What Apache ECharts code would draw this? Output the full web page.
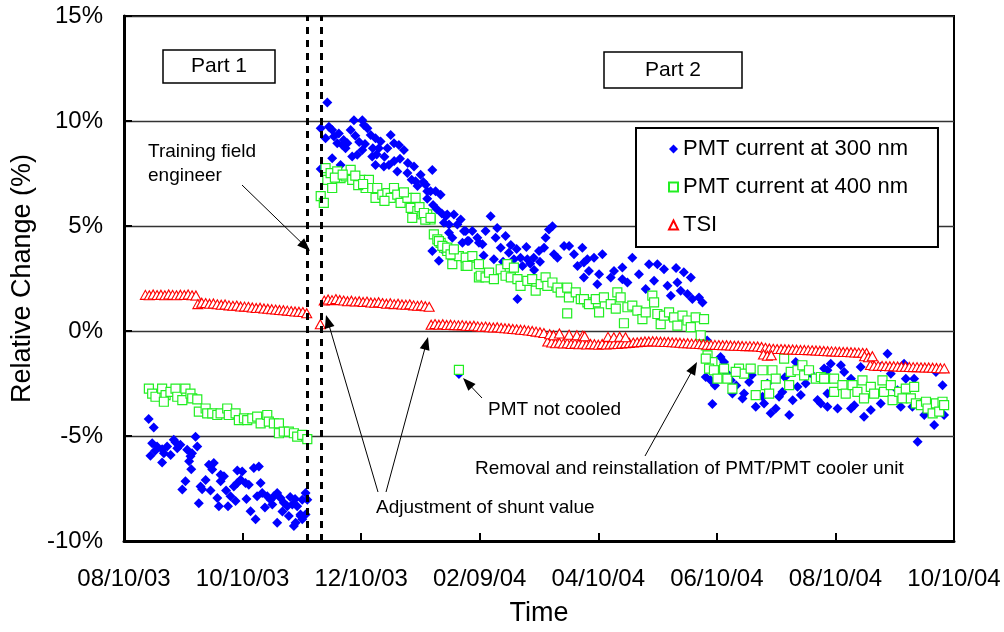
<!DOCTYPE html>
<html>
<head>
<meta charset="utf-8">
<script src="https://cdn.jsdelivr.net/npm/echarts@6/dist/echarts.min.js"></script>
<style>html,body{margin:0;padding:0;background:#fff}#c{width:1004px;height:632px}</style>
</head>
<body>
<div id="c"></div>
<script>
// x = days since 08/10/03 ; y = relative change (%)
const tickLabels = ['08/10/03','10/10/03','12/10/03','02/09/04','04/10/04','06/10/04','08/10/04','10/10/04'];
const tickStepDays = 61;
const seriesNames = ['PMT current at 300 nm','PMT current at 400 nm','TSI'];
const eventDays = [94.3, 101.5];

const pmt300Part1 = [[12.7,-4.19],[15.3,-4.6],[14.5,-5.35],[17,-5.5],[19.6,-5.63],[22.2,-5.5],[25.6,-5.18],[27.4,-5.58],[29,-5.42],[13.6,-5.94],[20.5,-5.82],[19.6,-6.26],[32.5,-5.66],[34.2,-5.97],[36.8,-5.03],[37.7,-5.5],[35,-5.82],[34.6,-6.58],[31.6,-7.16],[30,-7.55],[39.4,-7.4],[40.2,-7.53],[38.5,-8.2],[43.7,-6.37],[45.4,-6.6],[46.2,-6.29],[49.7,-6.84],[51.4,-6.92],[48,-7.95],[48.8,-8.34],[54.8,-7.87],[56.5,-7.4],[58.3,-7.24],[60.8,-6.69],[60,-7.08],[62.5,-7.24],[64.2,-7.32],[57.4,-8.1],[53.5,-8.34],[65.1,-8.58],[67.7,-8.97],[69.4,-6.45],[70.3,-7.24],[68.5,-7.87],[71.1,-7.71],[73.7,-7.87],[75.4,-8.03],[77.1,-7.87],[78.8,-7.71],[80.5,-7.95],[76.3,-8.26],[78.8,-9.13],[82.2,-8.18],[84,-8.34],[84.8,-8.81],[86.6,-8.26],[88.3,-9.13],[89.1,-8.34],[90.8,-8.74],[91.7,-8.03],[93.4,-7.71],[94.3,-8.03],[91.7,-8.97],[93.4,-8.74],[87.4,-9.29],[66.8,-6.52],[58.3,-6.64],[49.7,-7.16],[90.8,-8.81],[16,-5.7],[24,-5.9],[26.5,-5.3],[33.5,-6.2],[42,-7.1],[44.5,-7.6],[52.5,-7.6],[63,-8.0],[72.5,-8.4],[81.5,-8.6],[85.5,-7.9],[88,-8.0]];
const pmt300Part2 = [[104.6,10.88],[101.2,9.65],[105.4,9.73],[103.7,9.18],[107.1,9.57],[108,9.26],[109.7,8.94],[112.3,8.86],[114.9,8.94],[116.6,9.57],[118.3,10.04],[122.6,10.04],[123.4,9.81],[125.2,9.65],[126.9,9.33],[129.4,9.18],[132,9.02],[137.2,9.33],[138.9,8.94],[141.4,8.86],[144,8.62],[114,8.7],[107.1,8.23],[117.4,8.31],[120,8.39],[122.6,8.62],[127.7,8.31],[129.4,7.91],[133.7,7.83],[136.3,7.91],[131.1,8.7],[135.5,8.7],[140.6,7.6],[145.8,7.52],[149.2,7.83],[150,7.13],[152.6,7.44],[155.2,6.96],[158.6,7.67],[157.7,6.65],[160.3,6.65],[162.9,6.49],[111.4,7.91],[101.2,7.71],[110.5,9.4],[113,9.1],[119,9.3],[121,9.0],[124,8.9],[128,8.7],[130,8.4],[134,8.3],[139,8.1],[142,8.2],[146,8.0],[148,7.2],[151,6.9],[154,7.1],[156,6.3],[159,6.0],[161,5.8],[163.5,5.6],
[165.5,5.47],[169.7,5.55],[167.2,5.07],[171.5,5.07],[174.9,4.76],[179.2,4.76],[176.7,4.28],[174.1,4.2],[158.6,3.81],[162,3.34],[168.9,4.44],[181.8,4.44],[156,6.65],[166.3,5.55],[173.2,5.31],[164.6,5.15],[167.2,4.68],[163.8,3.89],[175.8,4.76],[177.4,4.28],[182.6,4.2],[186,4.76],[184.4,4.13],[188.6,5.47],[191.2,4.44],[193.8,3.97],[196.3,4.52],[190.3,3.42],[198,3.73],[200.6,3.42],[204,3.49],[207.5,3.42],[202.4,1.52],[213.5,3.81],[216.1,3.97],[216.9,4.44],[218.6,4.83],[220.4,4.99],[221.2,3.65],[223,3.49],[226.4,4.05],[229,4.05],[231.5,3.65],[233.3,3.1],[235.8,3.97],[236.6,3.26],[239.2,2.86],[241.8,3.49],[243.5,2.23],[244.4,2.7],[210.8,3.49],[209,3.2],[185,3.6],[192,4.9],[195,3.3],[199,4.1],[202,3.9],[205,3.1],[207,4.0],[211,2.9],[214,3.3],[172.3,-2.05],
[238.4,3.42],[246.1,3.65],[236.6,2.55],[250.4,2.55],[252.1,2.86],[256.4,3.02],[261.5,3.49],[264.9,2.7],[270.1,3.18],[274.4,3.18],[259,2.31],[268.4,2.0],[272.7,2.39],[279.6,2.15],[284.7,2.31],[286.4,1.92],[289.9,1.76],[292.4,1.52],[295.8,1.6],[297.6,1.36],[281.3,1.68],[277.8,2.94],[256.4,2.47],[284,3.0],[288,2.8],[291.6,2.55],
[300,-0.45],[299.3,-2.19],[301.8,-2.35],[306.9,-1.24],[308.7,-1.48],[302.7,-3.48],[312.2,-2.35],[313,-2.98],[318.2,-3.21],[319,-2.98],[321.6,-2.43],[325,-3.61],[328.5,-3.13],[329.3,-3.45],[332.7,-3.92],[335.3,-3.69],[337,-3.13],[338.7,-2.9],[342.2,-4.0],[345.6,-1.48],[346.5,-2.66],[348.2,-3.05],[350.7,-2.5],[356.8,-3.29],[360.2,-1.79],[361.9,-3.61],[361.9,-2.98],[304,-2.6],[310,-2.0],[315,-2.6],[323,-2.1],[331,-2.5],[340,-2.2],[344,-3.3],[353,-2.0],
[358.5,-3.45],[361.9,-1.87],[363.6,-1.56],[367.1,-3.69],[368.8,-1.63],[370.5,-1.95],[374,-2.27],[375.7,-3.53],[374,-3.69],[380.7,-4.08],[384.2,-3.76],[379,-1.71],[389.3,-3.45],[392.8,-1.08],[394.5,-2.03],[399.6,-3.61],[401.3,-1.56],[402.2,-2.27],[405.6,-3.61],[406.5,-2.27],[408.3,-5.27],[411.7,-4.0],[416.8,-4.48],[417.7,-1.95],[421.1,-2.58],[421.9,-4.0],[397.9,-2.82],[389.3,-1.71]];

const pmt400Part1 = [[12.8,-2.74],[14.5,-2.98],[16.2,-3.13],[19.6,-2.74],[21.4,-3.05],[20.5,-3.37],[23.9,-2.9],[26.5,-2.74],[27.4,-3.13],[30,-3.29],[31.6,-2.74],[34.2,-2.98],[35.1,-3.21],[37.7,-3.26],[38.5,-3.84],[42,-3.69],[42.8,-3.92],[45.4,-3.92],[48,-4.0],[49.7,-3.92],[53.1,-3.69],[53.9,-4.0],[57.4,-3.92],[59.1,-4.24],[61.7,-4.16],[63.4,-4.24],[66,-4.16],[68.5,-4.08],[70.3,-4.4],[73.7,-4.0],[74.5,-4.32],[77.1,-4.4],[79.7,-4.4],[79.7,-4.87],[82.2,-4.79],[84.8,-4.79],[87.4,-4.87],[89.1,-5.03],[91.7,-4.95],[94.3,-5.15]];
const pmt400Part2 = [[101.2,6.42],[102.8,6.1],[103.7,7.76],[104.6,7.2],[107.1,6.81],[106.3,7.52],[109.7,7.6],[111.4,7.28],[114,7.36],[116.6,7.67],[117.4,7.2],[121.7,7.2],[124.3,6.81],[126,7.2],[127.7,6.81],[129.4,6.34],[130.3,6.81],[132.9,6.49],[135.5,6.57],[137.2,6.34],[138.9,6.81],[140.6,6.49],[142.3,6.1],[145.8,6.34],[147.5,5.86],[150,6.34],[150.9,5.71],[153.5,5.55],[156,5.55],[157.7,5.31],[148.3,5.39],[159.4,4.6],[161.2,4.36],[162.9,4.2],[164.6,3.97],[166.3,3.81],[168.9,3.18],[169.7,3.81],[172.3,3.57],[175.8,3.1],[178.3,3.49],[182.6,2.55],[108.5,7.3],[112.5,7.45],[119,7.4],[120.5,6.95],[123,7.0],[134,6.2],[144,6.6],[152,5.9],[155,5.3],
[154.3,5.62],[157.7,5.39],[162,4.28],[163.8,4.05],[166.3,3.97],[168,3.65],[169.7,3.89],[175.8,3.49],[176.7,3.1],[179.2,3.57],[182.6,3.18],[183.5,2.63],[186,2.55],[187.8,2.78],[190.3,2.47],[193.8,2.94],[197.2,3.18],[196.3,2.63],[200.6,3.02],[199,2.55],[202.4,2.47],[204,2.15],[207.5,2.39],[210,2.47],[211.8,1.92],[214.4,2.23],[216.9,2.55],[217.8,2.15],[220.4,2.31],[223,2.07],[224.7,1.84],[228,2.07],[228.9,1.6],[232.4,1.84],[235,1.52],[228,0.84],[238.4,1.36],[242.7,1.36],[244.4,0.89],[172.3,-1.85],
[236.6,1.52],[239.2,1.28],[242.7,1.52],[246.9,1.6],[250.4,1.28],[253.8,1.84],[255.5,1.6],[253,1.07],[259,1.13],[261.5,1.21],[257.2,0.37],[264.1,0.97],[266.7,0.57],[268.4,0.89],[271.8,1.68],[272.7,1.36],[274.4,0.81],[276.1,0.33],[277.8,0.73],[280.4,0.89],[283,0.65],[284.7,0.26],[287.3,0.73],[289.9,0.5],[291.6,0.18],[294.1,0.65],[298.4,0.57],[296.7,-0.21],[299.3,-0.69],[300.2,-1.16],[302.7,-1.48],[304.4,-1.87],
[299.3,-1.32],[301,-1.79],[303.5,-1.87],[308.7,-1.79],[310.4,-2.27],[313,-2.74],[316.4,-1.79],[319,-2.03],[322.4,-1.79],[325,-3.05],[328.5,-1.87],[330.2,-2.58],[331.9,-2.98],[333.6,-1.87],[335.3,-2.27],[339.6,-1.32],[342.2,-2.58],[343,-1.95],[346.5,-1.87],[349,-1.63],[349.9,-2.11],[352.4,-1.87],[355.9,-2.27],[358.5,-2.19],[361,-2.27],[314.7,-1.95],[305.3,-2.27],
[360.2,-2.27],[365.3,-2.27],[365.3,-2.9],[369.6,-2.58],[371.3,-2.98],[374.8,-2.58],[377.3,-2.9],[379.9,-2.35],[380.7,-3.21],[384.2,-2.66],[385.9,-2.98],[390.2,-2.35],[391,-2.9],[394.5,-2.58],[395.4,-3.29],[398.8,-2.9],[400.5,-3.21],[402.2,-2.74],[404.8,-3.21],[406.5,-2.66],[407.4,-3.45],[410,-3.53],[412.6,-3.37],[413.4,-3.69],[416,-3.92],[417.7,-3.45],[421.1,-3.37],[419.4,-3.84],[421.9,-3.53]];

const tsiPart1 = [[11,1.72],[13,1.70],[15,1.74],[17,1.71],[19,1.73],[21,1.70],[23,1.74],[25,1.72],[27,1.70],[29,1.73],[31,1.71],[33,1.74],[35,1.70],[37,1.69],
[38,1.28],[40,1.35],[42,1.33],[44,1.30],[46,1.31],[48,1.27],[50,1.25],[52,1.26],[54,1.22],[56,1.20],[58,1.21],[60,1.17],[62,1.16],[64,1.15],[66,1.12],[68,1.10],[70,1.11],[72,1.07],[74,1.06],[76,1.04],[78,1.02],[80,1.00],[82,0.99],[84,0.97],[86,0.95],[88,0.93],[90,0.92],[92,0.90],[94,0.85]];
const tsiPart2 = [[101,0.32],[103,1.45],[105,1.50],[107,1.47],[109,1.52],[111,1.48],[113,1.45],[115,1.42],[117,1.44],[119,1.40],[121,1.42],[123,1.38],[125,1.40],[127,1.36],[129,1.35],[131,1.37],[133,1.33],[135,1.30],[137,1.32],[139,1.28],[141,1.30],[143,1.26],[145,1.25],[147,1.27],[149,1.22],[151,1.20],[153,1.22],[155,1.18],[157,1.15],
[158,0.30],[160,0.33],[162,0.30],[164,0.32],[166,0.29],[168,0.30],[170,0.28],[172,0.27],[174,0.28],[176,0.25],[178,0.24],[180,0.25],[182,0.22],[184,0.20],[186,0.21],[188,0.18],[190,0.17],[192,0.18],[194,0.15],[196,0.13],[198,0.12],[200,0.10],[202,0.08],[204,0.06],[206,0.05],[208,0.02],[210,0.00],[212,-0.03],[214,-0.06],[216,-0.10],
[218,-0.50],[220,-0.55],[222,-0.58],[224,-0.56],[226,-0.60],[228,-0.58],[230,-0.62],[232,-0.60],[234,-0.63],[236,-0.61],[238,-0.64],[240,-0.62],[242,-0.63],[244,-0.65],[246,-0.62],[248,-0.64],[250,-0.63],[252,-0.61],[254,-0.62],[256,-0.60],[258,-0.58],[260,-0.57],[262,-0.55],[264,-0.54],[266,-0.52],[268,-0.50],[270,-0.50],[272,-0.49],[274,-0.50],[276,-0.51],[278,-0.52],[280,-0.52],[282,-0.54],[284,-0.55],[286,-0.56],[288,-0.58],[290,-0.58],[292,-0.60],[294,-0.61],[296,-0.62],[298,-0.63],
[300,-0.65],[302,-0.66],[304,-0.66],[306,-0.67],[308,-0.68],[310,-0.68],[312,-0.69],[314,-0.70],[316,-0.70],[318,-0.71],[320,-0.72],[322,-0.72],[324,-0.73],[326,-0.74],[328,-0.76],[330,-0.80],[332,-0.83],[334,-0.85],[336,-0.86],[338,-0.86],[340,-0.87],[342,-0.88],[344,-0.88],[346,-0.89],[348,-0.90],[350,-0.90],[352,-0.91],[354,-0.92],[356,-0.93],[358,-0.94],[360,-0.95],[362,-0.96],[364,-0.97],[366,-0.98],[368,-0.99],[370,-1.00],[372,-1.00],[374,-1.01],[376,-1.02],[378,-1.03],[380,-1.04],[382,-1.05],
[384,-1.62],[386,-1.65],[388,-1.66],[390,-1.66],[392,-1.67],[394,-1.68],[396,-1.68],[398,-1.69],[400,-1.70],[402,-1.70],[404,-1.71],[406,-1.72],[408,-1.72],[410,-1.73],[412,-1.74],[414,-1.74],[416,-1.75],[418,-1.76],[420,-1.77],[422,-1.78],
[219,-0.15],[221,-0.20],[224,-0.12],[229,-0.18],[233,-0.20],[236,-0.22],[237,-0.25],[249,-0.28],[252,-0.30],[255,-0.27],[258,-0.30],[329,-1.12],[331,-1.18],[333,-1.15],[381,-1.20],[383,-1.25],[385,-1.20]];

const FONT = '"Liberation Sans", Arial, sans-serif';

function arrow(x1, y1, x2, y2) {
  const a = Math.atan2(y2 - y1, x2 - x1), c = Math.cos(a), s = Math.sin(a);
  const L = 13, W = 5;
  return [
    {type:'line', z:100, shape:{x1:x1, y1:y1, x2:x2 - c*L*0.7, y2:y2 - s*L*0.7}, style:{stroke:'#000', lineWidth:1}},
    {type:'polygon', z:100, shape:{points:[[x2,y2],[x2 - L*c + W*s, y2 - L*s - W*c],[x2 - L*c - W*s, y2 - L*s + W*c]]}, style:{fill:'#000'}}
  ];
}
function label(text, x, y, size) {
  return {type:'text', z:100, x:x, y:y, style:{text:text, fill:'#000', font: (size||19) + 'px ' + FONT, verticalAlign:'middle', align:'left'}};
}
function box(text, x, y, w, h) {
  return [
    {type:'rect', z:100, shape:{x:x, y:y, width:w, height:h}, style:{fill:'#fff', stroke:'#000', lineWidth:1.5}},
    {type:'text', z:101, x:x + w/2, y:y + h/2, style:{text:text, fill:'#000', font:'21px ' + FONT, align:'center', verticalAlign:'middle'}}
  ];
}

const graphics = [].concat(
  box('Part 1', 163, 50, 112, 33),
  box('Part 2', 604, 52, 138, 36),
  label('Training field', 148, 152),
  label('engineer', 148, 176),
  arrow(242, 185, 310, 251),
  label('Adjustment of shunt value', 376, 508),
  arrow(378, 492, 326, 315),
  arrow(386, 492, 428, 337),
  label('PMT not cooled', 488, 410),
  arrow(482, 398, 463, 378),
  label('Removal and reinstallation of PMT/PMT cooler unit', 475, 469),
  arrow(645, 456, 697, 362)
);

const chart = echarts.init(document.getElementById('c'), null, {renderer:'canvas'});
chart.setOption({
  animation: false,
  backgroundColor: '#fff',
  textStyle: {fontFamily: FONT},
  grid: {left:124, right:50, top:16, bottom:88, show:true, borderColor:'#000', borderWidth:2, backgroundColor:'transparent'},
  legend: {
    orient:'vertical', left:636, top:128,
    padding:[10, 30, 11, 32], itemGap:16, itemWidth:9, itemHeight:9,
    backgroundColor:'#fff', borderColor:'#000', borderWidth:2, z:50,
    textStyle:{fontSize:22, fontFamily:FONT, color:'#000', lineHeight:22},
    data:[{name:seriesNames[0], icon:'diamond'},{name:seriesNames[1], icon:'rect'},{name:seriesNames[2], icon:'triangle'}]
  },
  xAxis: {
    type:'value', min:0, max:tickStepDays*7, interval:tickStepDays,
    name:'Time', nameLocation:'middle', nameGap:59,
    nameTextStyle:{fontSize:27, fontFamily:FONT, color:'#000'},
    axisLine:{onZero:false, lineStyle:{color:'#000', width:3}},
    axisTick:{inside:true, length:8, lineStyle:{color:'#000', width:2}},
    axisLabel:{fontSize:24, fontFamily:FONT, color:'#000', margin:26,
      formatter:function(v){ return tickLabels[Math.round(v / tickStepDays)] || ''; }},
    splitLine:{show:false}
  },
  yAxis: {
    type:'value', min:-10, max:15, interval:5,
    name:'Relative Change (%)', nameLocation:'middle', nameGap:80,
    nameTextStyle:{fontSize:27, fontFamily:FONT, color:'#000'},
    axisLine:{show:true, onZero:false, lineStyle:{color:'#000', width:3}},
    axisTick:{show:true, inside:true, length:8, lineStyle:{color:'#000', width:2}},
    axisLabel:{fontSize:24, fontFamily:FONT, color:'#000', margin:21, formatter:function(v){return v + '%';}},
    splitLine:{show:true, lineStyle:{color:'#333', width:1.3}}
  },
  series: [
    {name:seriesNames[0], type:'scatter', symbol:'diamond', symbolSize:10,
      itemStyle:{color:'#0000ff', opacity:1},
      data: pmt300Part1.concat(pmt300Part2),
      markLine:{silent:true, symbol:['none','none'], label:{show:false},
        lineStyle:{color:'#000', width:3, type:[7,6]},
        data: eventDays.map(function(d){return {xAxis:d};})}},
    {name:seriesNames[1], type:'scatter', symbol:'rect', symbolSize:9,
      itemStyle:{color:'#fff', borderColor:'#22ee22', borderWidth:1.2, opacity:1},
      data: pmt400Part1.concat(pmt400Part2)},
    {name:seriesNames[2], type:'scatter', symbol:'triangle', symbolSize:[10,9],
      itemStyle:{color:'#fff', borderColor:'#ff0000', borderWidth:1.1, opacity:1},
      data: tsiPart1.concat(tsiPart2)}
  ],
  graphic: graphics
});
</script>
</body>
</html>
